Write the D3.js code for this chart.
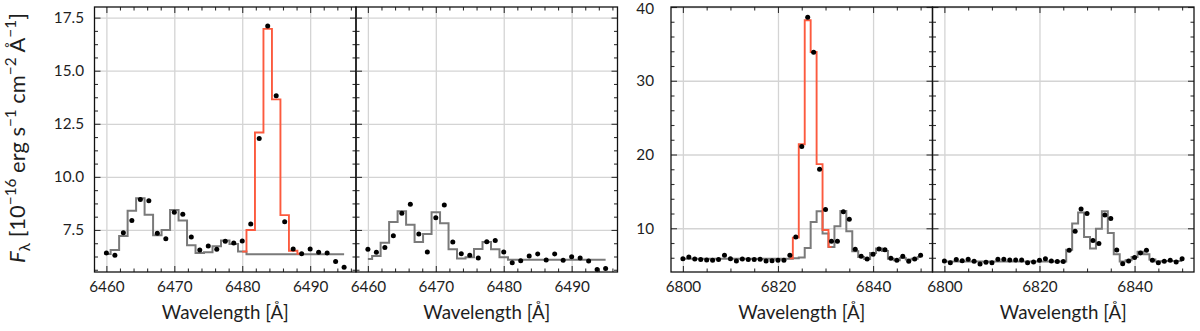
<!DOCTYPE html>
<html><head><meta charset="utf-8">
<script src="https://cdn.jsdelivr.net/npm/d3@7"></script>
<style>
html,body{margin:0;padding:0;background:#fff;}
svg{display:block;}
text{font-family:"Lato","DejaVu Sans",sans-serif;fill:#1e1e1e;}
</style></head>
<body><svg id="c" width="1200" height="331"></svg>
<script>
// ---------- data ----------
const wlA = [6460,6461.25,6462.5,6463.75,6465,6466.25,6467.5,6468.75,6470,6471.25,6472.5,6473.75,6475,6476.25,6477.5,6478.75,6480,6481.25,6482.5,6483.75,6485,6486.25,6487.5,6488.75,6490,6491.25,6492.5,6493.75,6495];
const wlB = [6800,6801.25,6802.5,6803.75,6805,6806.25,6807.5,6808.75,6810,6811.25,6812.5,6813.75,6815,6816.25,6817.5,6818.75,6820,6821.25,6822.5,6823.75,6825,6826.25,6827.5,6828.75,6830,6831.25,6832.5,6833.75,6835,6836.25,6837.5,6838.75,6840,6841.25,6842.5,6843.75,6845,6846.25,6847.5,6848.75,6850];

// panel 1
const obsA1 = [6.42,6.31,7.37,7.94,8.93,8.87,7.34,7.09,8.33,8.24,7.17,6.56,6.75,6.59,6.97,6.89,6.98,7.78,11.81,17.11,13.82,7.89,6.60,6.38,6.60,6.45,6.42,6.01,5.74];
const greyA1 = [6.37,6.56,7.22,8.41,8.99,8.22,7.25,7.5,8.44,7.95,6.78,6.42,6.45,6.73,7.0,6.84,6.48,6.36,6.36,6.36,6.36,6.36,6.36,6.36,6.36,6.36,6.36,6.36,6.36];
const redWlA1 = [6480,6481.25,6482.5,6483.75,6485,6486.25,6487.5,6488.75];
const redA1 = [6.48,7.5,12.09,16.97,13.65,8.2,6.52,6.38];
// panel 2
const obsA2 = [6.59,6.45,6.67,7.23,8.29,8.71,7.31,6.46,8.07,8.68,6.93,6.38,6.31,6.18,6.95,7.0,6.46,5.96,6.05,6.27,6.37,6.08,6.37,6.07,6.24,6.18,6.04,5.64,5.69];
const greyA2 = [6.13,6.27,6.90,7.88,8.38,7.75,6.93,7.31,8.33,7.81,6.59,6.16,6.21,6.60,6.93,6.59,6.21,6.10,6.10,6.10,6.10,6.10,6.10,6.10,6.10,6.10,6.10,6.10,6.10];
// panel 3
const obsB1 = [5.88,6.11,5.84,5.75,5.70,5.66,5.75,6.33,5.88,5.57,5.84,5.75,5.75,5.79,5.57,5.61,5.66,5.66,6.33,8.82,21.07,38.6,33.88,18.0,12.53,8.24,8.24,12.25,11.22,7.15,6.2,5.84,6.47,7.19,7.10,5.93,5.66,6.20,5.52,5.84,6.33];
const greyB1 = [5.88,5.88,5.88,5.88,5.88,5.88,5.88,5.88,5.88,5.88,5.88,5.88,5.88,5.88,5.88,5.88,5.88,5.88,5.88,5.93,6.05,7.33,10.86,12.3,9.28,7.47,10.27,12.35,9.6,6.88,6.11,5.84,6.65,7.24,6.92,5.88,5.66,5.97,5.75,5.88,6.11];
const redWlB1 = [6822.5,6823.75,6825,6826.25,6827.5,6828.75,6830,6831.25];
const redB1 = [5.93,8.73,21.4,38.2,33.9,18.7,9.77,7.47];
// panel 4
const obsB2 = [5.57,5.34,5.75,5.61,5.79,5.52,5.16,5.38,5.34,5.79,5.79,5.70,5.70,5.70,5.34,5.43,5.66,5.88,5.57,5.48,5.48,7.01,9.59,12.62,11.99,8.33,7.92,11.81,11.31,7.06,5.20,5.57,6.02,6.65,7.01,5.66,5.34,5.52,5.66,5.43,5.88];
const greyB2 = [5.5,5.5,5.5,5.5,5.5,5.5,5.5,5.5,5.5,5.5,5.5,5.5,5.5,5.5,5.5,5.5,5.5,5.5,5.5,5.5,5.5,7.10,10.63,12.13,8.82,7.24,9.95,12.31,9.37,6.47,5.48,5.66,6.11,6.83,6.47,5.75,5.48,5.57,5.57,5.57,5.57];

// ticks
const xTicksA = [6460,6470,6480,6490];
const yTicksA = [7.5,10.0,12.5,15.0,17.5];
const xTicksB = [6800,6820,6840];
const yTicksB = [10,20,30,40];

// ---------- layout ----------
const yTop = 7, yBot = 272, pw = 261.5;
const panels = [
  {left:94.5, xd:[6458.25,6496.75], yd:[5.52,18.0], xt:xTicksA, yt:yTicksA, xMinor:2, yMinor:0.625, ylab:true, ypad:10.5, yfmt:d3.format(".1f"), wl:wlA, obs:obsA1, grey:greyA1, rwl:redWlA1, red:redA1},
  {left:94.5+pw, xd:[6458.25,6496.75], yd:[5.52,18.0], xt:xTicksA, yt:yTicksA, xMinor:2, yMinor:0.625, ylab:false, wl:wlA, obs:obsA2, grey:greyA2},
  {left:671, xd:[6797.5,6852.5], yd:[4.07,40], xt:xTicksB, yt:yTicksB, xMinor:5, yMinor:2, ylab:true, ypad:17, yfmt:d3.format("d"), wl:wlB, obs:obsB1, grey:greyB1, rwl:redWlB1, red:redB1},
  {left:671+pw, xd:[6797.5,6852.5], yd:[4.07,40], xt:xTicksB, yt:yTicksB, xMinor:5, yMinor:2, ylab:false, wl:wlB, obs:obsB2, grey:greyB2}
];

const svg = d3.select("#c");
const tickCol = "#333";

// measure a font size so that a reference string has a given width
function fitSize(str, target, base) {
  const t = svg.append("text").attr("font-size", base).text(str);
  const w = t.node().getComputedTextLength();
  t.remove();
  return base * target / w;
}
const FS_TICK = Math.min(22, fitSize("6460", 35.5, 20));
const FS_LAB = Math.min(22, fitSize("Wavelength [Å]", 127, 20));

panels.forEach((p,i) => {
  const x = d3.scaleLinear().domain(p.xd).range([p.left, p.left+pw]);
  const y = d3.scaleLinear().domain(p.yd).range([yBot, yTop]);
  const g = svg.append("g");
  const clipId = "clip"+i;
  svg.append("clipPath").attr("id",clipId).append("rect")
    .attr("x",p.left).attr("y",yTop).attr("width",pw).attr("height",yBot-yTop);

  // grid
  g.append("g").attr("transform",`translate(0,${yBot})`)
    .call(d3.axisBottom(x).tickValues(p.xt).tickSize(-(yBot-yTop)).tickFormat(""))
    .call(s=>{s.select(".domain").remove(); s.selectAll("line").attr("stroke","#d4d4d4").attr("stroke-width",1.3);});
  g.append("g").attr("transform",`translate(${p.left},0)`)
    .call(d3.axisLeft(y).tickValues(p.yt).tickSize(-pw).tickFormat(""))
    .call(s=>{s.select(".domain").remove(); s.selectAll("line").attr("stroke","#d4d4d4").attr("stroke-width",1.3);});

  // curves
  const plot = g.append("g").attr("clip-path",`url(#${clipId})`);
  const line = d3.line().curve(d3.curveStep);
  plot.append("path")
    .attr("d", line(p.wl.map((w,k)=>[x(w), y(p.grey[k])])))
    .attr("fill","none").attr("stroke","#7a7a7a").attr("stroke-width",2);
  if (p.red) {
    plot.append("path")
      .attr("d", line(p.rwl.map((w,k)=>[x(w), y(p.red[k])])))
      .attr("fill","none").attr("stroke","#fc5a3e").attr("stroke-width",1.9);
  }
  plot.selectAll("circle").data(p.wl).join("circle")
    .attr("cx",(w)=>x(w)).attr("cy",(w,k)=>y(p.obs[k])).attr("r",2.5).attr("fill","#000");

  // ticks
  const xMinorVals = d3.range(Math.ceil(p.xd[0]/p.xMinor)*p.xMinor, p.xd[1], p.xMinor).filter(v=>!p.xt.some(t=>Math.abs(t-v)<1e-6));
  const yMinorVals = d3.range(Math.ceil((p.yd[0]-p.yt[0])/p.yMinor)*p.yMinor + p.yt[0], p.yd[1], p.yMinor).filter(v=>!p.yt.some(t=>Math.abs(t-v)<1e-6));
  const styleTicks = s => { s.select(".domain").remove(); s.selectAll("line").attr("stroke",tickCol).attr("stroke-width",1.1); };

  g.append("g").attr("transform",`translate(0,${yBot})`)
    .call(d3.axisBottom(x).tickValues(p.xt).tickSizeInner(-6).tickSizeOuter(0).tickPadding(9).tickFormat(d3.format("d")))
    .call(styleTicks)
    .call(s=>s.selectAll("text").attr("font-size",FS_TICK).attr("font-family",null).attr("fill",null));
  g.append("g").attr("transform",`translate(0,${yBot})`)
    .call(d3.axisBottom(x).tickValues(xMinorVals).tickSizeInner(-3.5).tickSizeOuter(0).tickFormat(""))
    .call(styleTicks);
  g.append("g").attr("transform",`translate(0,${yTop})`)
    .call(d3.axisTop(x).tickValues(p.xt).tickSizeInner(-6).tickSizeOuter(0).tickFormat(""))
    .call(styleTicks);
  g.append("g").attr("transform",`translate(0,${yTop})`)
    .call(d3.axisTop(x).tickValues(xMinorVals).tickSizeInner(-3.5).tickSizeOuter(0).tickFormat(""))
    .call(styleTicks);
  const la = d3.axisLeft(y).tickValues(p.yt).tickSizeInner(-6).tickSizeOuter(0);
  if (p.ylab) la.tickPadding(p.ypad).tickFormat(p.yfmt); else la.tickFormat("");
  g.append("g").attr("transform",`translate(${p.left},0)`).call(la).call(styleTicks)
    .call(s=>s.selectAll("text").attr("font-size",FS_TICK).attr("font-family",null).attr("fill",null)
      .attr("dy", d => (y(d) - yTop < 8) ? "0.42em" : "0.32em"));
  g.append("g").attr("transform",`translate(${p.left},0)`)
    .call(d3.axisLeft(y).tickValues(yMinorVals).tickSizeInner(-3.5).tickSizeOuter(0).tickFormat(""))
    .call(styleTicks);
  g.append("g").attr("transform",`translate(${p.left+pw},0)`)
    .call(d3.axisRight(y).tickValues(p.yt).tickSizeInner(-6).tickSizeOuter(0).tickFormat(""))
    .call(styleTicks);
  g.append("g").attr("transform",`translate(${p.left+pw},0)`)
    .call(d3.axisRight(y).tickValues(yMinorVals).tickSizeInner(-3.5).tickSizeOuter(0).tickFormat(""))
    .call(styleTicks);

  g.append("rect").attr("x",p.left).attr("y",yTop).attr("width",pw).attr("height",yBot-yTop)
    .attr("fill","none").attr("stroke","#111").attr("stroke-width",1.3);

  g.append("text").attr("x",p.left+pw/2).attr("y",319).attr("text-anchor","middle")
    .attr("font-size",FS_LAB).text("Wavelength [Å]");
});

// y label, scaled to the reference length
function buildYLabel(fs) {
  const sub = fs*0.7, up = fs*0.42, dn = fs*0.2;
  const t = svg.append("text").attr("text-anchor","middle").attr("font-size",fs);
  t.append("tspan").attr("font-style","italic").text("F");
  t.append("tspan").attr("font-size",sub).attr("dy",dn).text("λ");
  t.append("tspan").attr("dy",-dn).text(" [10");
  t.append("tspan").attr("font-size",sub).attr("dy",-up).text("−16");
  t.append("tspan").attr("dy",up).text(" erg s");
  t.append("tspan").attr("font-size",sub).attr("dy",-up).text("−1");
  t.append("tspan").attr("dy",up).text("  cm");
  t.append("tspan").attr("font-size",sub).attr("dy",-up).text("−2");
  t.append("tspan").attr("dy",up).text("  Å");
  t.append("tspan").attr("font-size",sub).attr("dy",-up).text("−1");
  t.append("tspan").attr("dy",up).text("]");
  return t;
}
let yl = buildYLabel(20);
const w0 = yl.node().getBBox().width;
yl.remove();
const fsY = Math.min(24, 20*250/w0);
yl = buildYLabel(fsY);
yl.attr("transform",`translate(${8 + fsY*0.78},138) rotate(-90)`);
</script></body></html>
